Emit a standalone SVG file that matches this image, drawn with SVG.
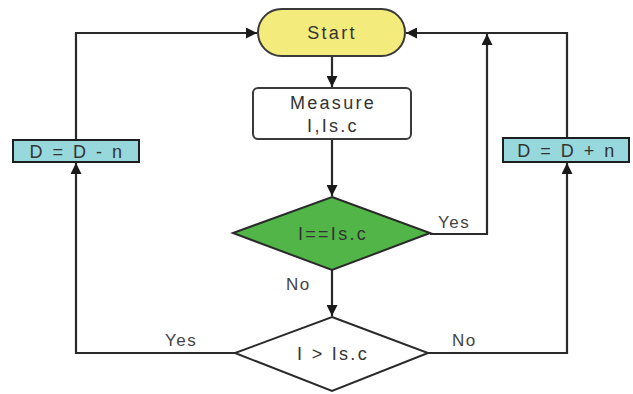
<svg xmlns="http://www.w3.org/2000/svg" width="633" height="394" viewBox="0 0 633 394">
<defs>
<marker id="arr" viewBox="0 0 10 10" refX="10" refY="5" markerWidth="11" markerHeight="11" markerUnits="userSpaceOnUse" orient="auto">
<path d="M0,0 L10,5 L0,10 z" fill="#1a1a1a"/>
</marker>
</defs>
<style>
.ln{fill:none;stroke:#2a2a2a;stroke-width:2.2}
.t{font-family:"Liberation Sans",Arial,sans-serif;font-size:18px;letter-spacing:2.3px;text-anchor:middle;fill:#333}
.lbl{font-family:"Liberation Sans",Arial,sans-serif;font-size:17px;letter-spacing:1.5px;fill:#444}
.dbox{fill:#96d8dc;stroke:#1e1e1e;stroke-width:2}
.dt{letter-spacing:2.5px}
</style>
<rect width="633" height="394" fill="#ffffff"/>
<g id="connectors">
<line class="ln" x1="332" y1="56" x2="332" y2="87" marker-end="url(#arr)"/>
<line class="ln" x1="332" y1="139" x2="332" y2="196" marker-end="url(#arr)"/>
<line class="ln" x1="332" y1="270" x2="332" y2="316" marker-end="url(#arr)"/>
<polyline class="ln" points="430,234 487,234 487,34" marker-end="url(#arr)"/>
<polyline class="ln" points="567,137 567,33 406,33" marker-end="url(#arr)"/>
<polyline class="ln" points="76,140 76,33 257,33" marker-end="url(#arr)"/>
<polyline class="ln" points="235,353 76,353 76,163" marker-end="url(#arr)"/>
<polyline class="ln" points="428,353 567,353 567,163" marker-end="url(#arr)"/>
<text class="lbl" x="438" y="228">Yes</text>
<text class="lbl" x="286" y="290">No</text>
<text class="lbl" x="165" y="346">Yes</text>
<text class="lbl" x="452" y="346">No</text>
</g>
<g id="start">
<rect x="258" y="9" width="147" height="47" rx="23.5" fill="#f3ec7c" stroke="#3a3a3a" stroke-width="2"/>
<text class="t" x="332" y="39" fill="#222">Start</text>
</g>
<g id="measure">
<rect x="253" y="88" width="158" height="51" rx="5" fill="#ffffff" stroke="#3a3a3a" stroke-width="2"/>
<text class="t" x="333" y="109">Measure</text>
<text class="t" x="333" y="132">I,Is.c</text>
</g>
<g id="equal">
<polygon points="332,197 430,233 332,270 233,233" fill="#52b548" stroke="#2a2a2a" stroke-width="2"/>
<text class="t" x="333" y="240" fill="#1d3d18">I==Is.c</text>
</g>
<g id="greater">
<polygon points="332,317 428,353 332,391 235,353" fill="#ffffff" stroke="#2a2a2a" stroke-width="2"/>
<text class="t" x="333" y="360" fill="#555">I &gt; Is.c</text>
</g>
<g id="dminus">
<rect class="dbox" x="13" y="140" width="126" height="22"/>
<text class="t dt" x="77" y="158" fill="#1a3a3a">D = D - n</text>
</g>
<g id="dplus">
<rect class="dbox" x="503" y="138" width="126" height="24"/>
<text class="t dt" x="567" y="157" fill="#1a3a3a">D = D + n</text>
</g>
</svg>
